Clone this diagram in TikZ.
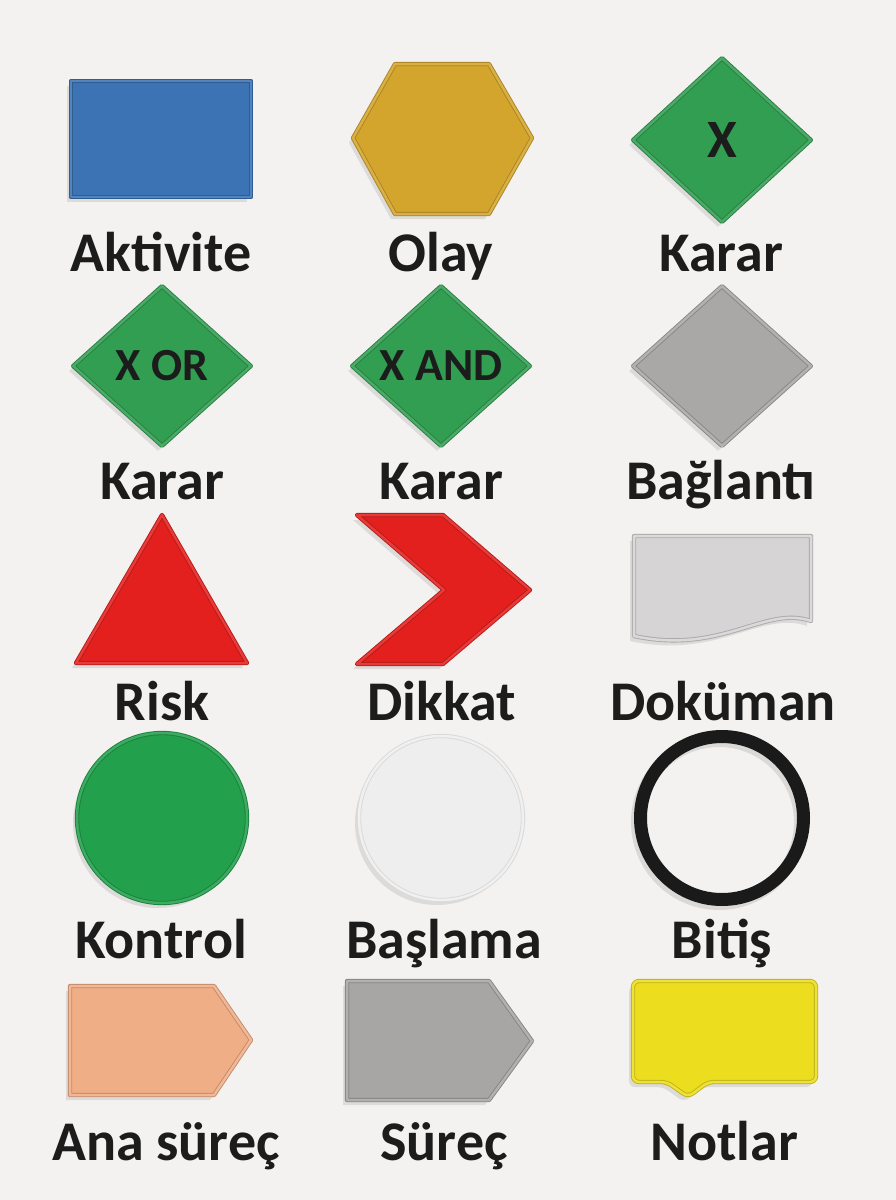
\documentclass[tikz,border=0pt]{standalone}
\usepackage{fontspec}
\setmainfont{Carlito}
\usepackage{tikz}
\usetikzlibrary{shapes.geometric, shadows, positioning}
\definecolor{bgwhite}{RGB}{243,242,240}
\definecolor{labelblack}{RGB}{28,28,28}
\definecolor{aktiviteblue}{RGB}{60,115,180}
\definecolor{olaygold}{RGB}{212,165,45}
\definecolor{karargreen}{RGB}{50,158,82}
\definecolor{baglantigray}{RGB}{170,168,166}
\definecolor{riskred}{RGB}{228,32,30}
\definecolor{dokumangray}{RGB}{214,212,212}
\definecolor{kontrolgreen}{RGB}{34,160,76}
\definecolor{baslamawhite}{RGB}{238,238,238}
\definecolor{ringblack}{RGB}{26,26,26}
\definecolor{anapeach}{RGB}{240,174,135}
\definecolor{surecgray}{RGB}{168,166,164}
\definecolor{notyellow}{RGB}{236,222,30}

\begin{document}
\begin{tikzpicture}[
    x=1pt, y=-1pt,
    tile/.style={draw=#1!80!black, fill=#1, double=#1!88!white, double distance=2.5pt, line width=0.9pt, line join=round,
        drop shadow={shadow xshift=-4pt, shadow yshift=-5pt, opacity=0.2}},
    caption/.style={anchor=base, text=labelblack, font=\bfseries\fontsize{56}{60}\selectfont},
    inlabel/.style={text=labelblack, font=\bfseries\fontsize{46}{50}\selectfont}
]
\fill[bgwhite] (0,0) rectangle (896,1200);
\useasboundingbox (0,0) rectangle (896,1200);

% row 1
\node[rectangle, tile=aktiviteblue, minimum width=180pt, minimum height=116pt] (aktivite) at (161,139) {};
\draw[tile=olaygold] (395,64) -- (489,64) -- (532,138) -- (489,214) -- (395,214) -- (353,138) -- cycle;
\node[diamond, tile=karargreen, minimum width=178pt, minimum height=164pt, inner sep=0pt, inlabel, font=\bfseries\fontsize{54}{58}\selectfont] (karar) at (722,140) {X};

\node[caption] (lblaktivite) at (161,271) {Aktivite};
\node[caption] (lblolay) at (441,271) {Olay};
\node[caption] (lblkarar) at (721,271) {Karar};

% row 2
\node[diamond, tile=karargreen, minimum width=178pt, minimum height=160pt, inner sep=0pt, inlabel] (xor) at (162,366) {X OR};
\node[diamond, tile=karargreen, minimum width=178pt, minimum height=160pt, inner sep=0pt, inlabel] (xand) at (441,366) {X AND};
\node[diamond, tile=baglantigray, minimum width=178pt, minimum height=160pt, inner sep=0pt] (baglanti) at (722,366) {};

\node[caption] (lblxor) at (162,499) {Karar};
\node[caption] (lblxand) at (441,499) {Karar};
\node[caption] (lblbaglanti) at (721,499) {Bağlantı};

% row 3
\draw[tile=riskred] (162,515) -- (247,663) -- (76,663) -- cycle;
\draw[tile=riskred] (357,515) -- (443,515) -- (530,590) -- (443,664) -- (357,664) -- (444,590) -- cycle;
\draw[tile=dokumangray] (634,536) -- (811,536) -- (811,621) .. controls (765,605) and (722,655) .. (634,636) -- cycle;

\node[caption] (lblrisk) at (162,720) {Risk};
\node[caption] (lbldikkat) at (442,720) {Dikkat};
\node[caption] (lbldokuman) at (723,720) {Doküman};

% row 4
\node[circle, tile=kontrolgreen, minimum size=170pt] (kontrol) at (162,818) {};
\node[circle, tile=baslamawhite, draw=black!15, minimum size=164pt] (baslama) at (441,818) {};
\fill[black, opacity=0.1, even odd rule] (719,822) circle (88) (719,822) circle (75);
\fill[ringblack, even odd rule] (722,818) circle (88) (722,818) circle (75);
\coordinate (bitis) at (722,818);

\node[caption] (lblkontrol) at (161,958) {Kontrol};
\node[caption] (lblbaslama) at (444,958) {Başlama};
\node[caption] (lblbitis) at (722,958) {Bitiş};

% row 5
\draw[tile=anapeach] (70,986) -- (214,986) -- (251,1040) -- (214,1095) -- (70,1095) -- cycle;
\draw[tile=surecgray] (347,981) -- (489,981) -- (532,1041) -- (489,1100) -- (347,1100) -- cycle;
\draw[tile=notyellow, rounded corners=6pt] (633,981) -- (816,981) -- (816,1082) -- (708,1082) -- (688,1097) -- (667,1082) -- (633,1082) -- cycle;

\node[caption] (lblanasurec) at (166,1160) {Ana süreç};
\node[caption] (lblsurec) at (444,1160) {Süreç};
\node[caption] (lblnotlar) at (724,1160) {Notlar};
\end{tikzpicture}
\end{document}
